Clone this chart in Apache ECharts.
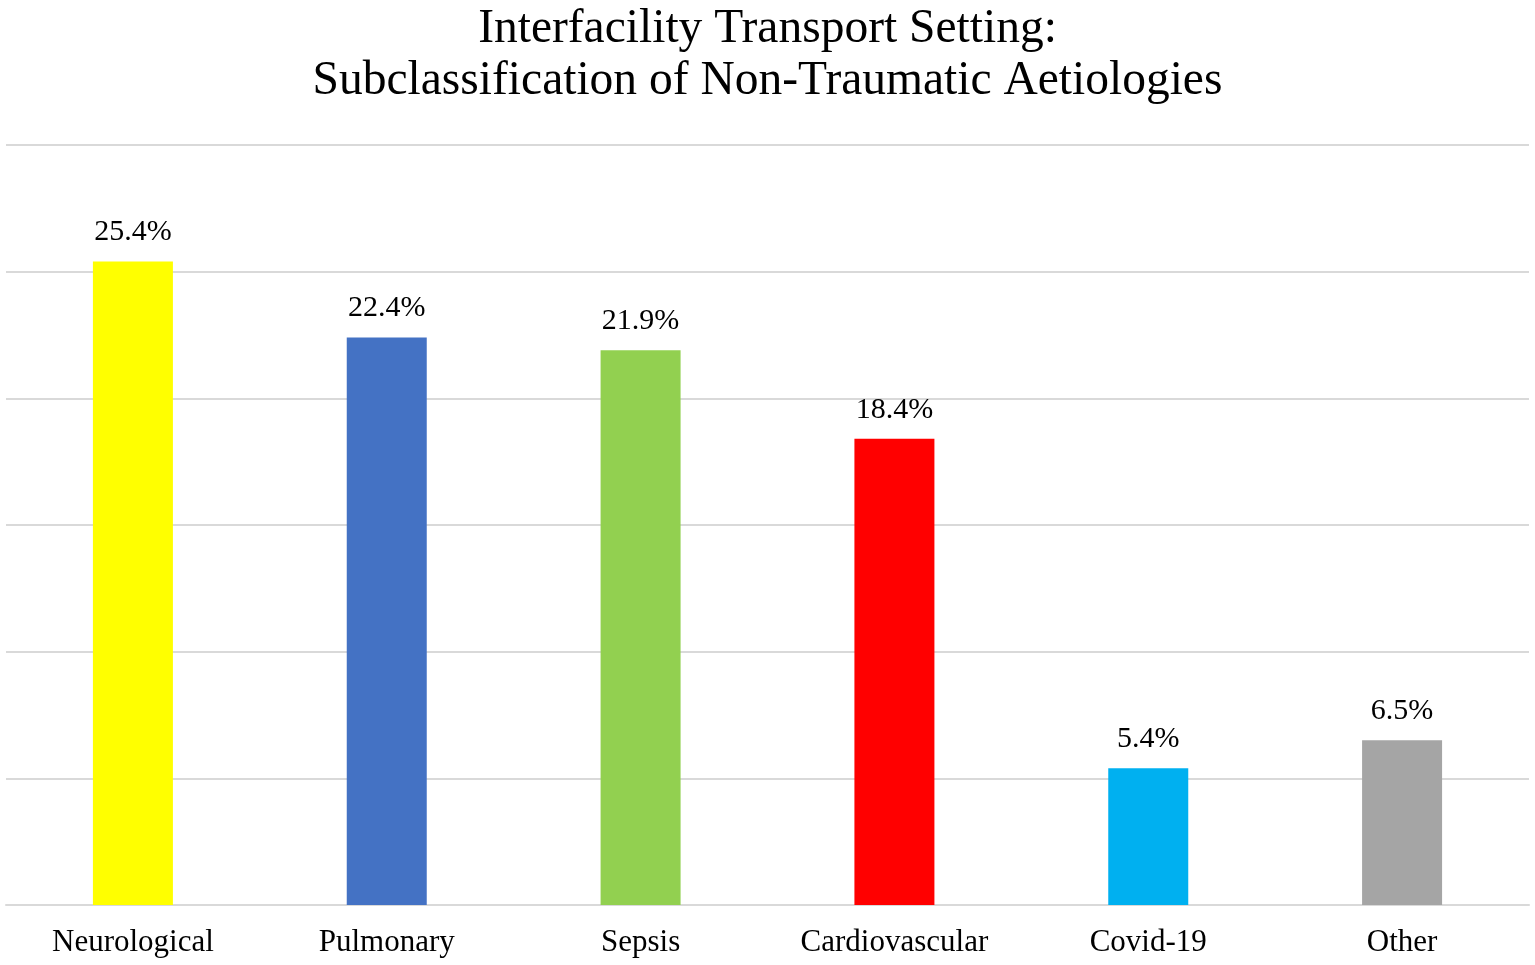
<!DOCTYPE html>
<html>
<head>
<meta charset="utf-8">
<script src="https://cdn.jsdelivr.net/npm/echarts@6/dist/echarts.min.js"></script>
<style>
html,body{margin:0;padding:0;background:#fff;}
#chart{width:1535px;height:965px;}
</style>
</head>
<body>
<div id="chart"></div>
<script>
const titleLines = ["Interfacility Transport Setting:", "Subclassification of Non-Traumatic Aetiologies"];
const categories = ["Neurological", "Pulmonary", "Sepsis", "Cardiovascular", "Covid-19", "Other"];
const values = [25.4, 22.4, 21.9, 18.4, 5.4, 6.5];
const barColors = ["#FFFF00", "#4472C4", "#92D050", "#FF0000", "#00B0F0", "#A5A5A5"];

const FONT = "'Liberation Serif', 'Times New Roman', serif";
const chart = echarts.init(document.getElementById('chart'));
chart.setOption({
  backgroundColor: '#ffffff',
  animation: false,
  title: {
    text: titleLines.join('\n'),
    left: 'center',
    top: -1,
    textStyle: { fontFamily: FONT, fontSize: 47.5, fontWeight: 'normal', color: '#000', lineHeight: 52 }
  },
  grid: { left: 6, right: 6, top: 145, bottom: 60, containLabel: false },
  xAxis: {
    type: 'category',
    data: categories,
    axisLine: { show: true, lineStyle: { color: '#d9d9d9', width: 2 } },
    axisTick: { show: false },
    axisLabel: { fontFamily: FONT, fontSize: 31, color: '#000', margin: 22 }
  },
  yAxis: {
    type: 'value',
    min: 0, max: 30, interval: 5,
    axisLabel: { show: false },
    axisLine: { show: false },
    axisTick: { show: false },
    splitLine: { show: true, lineStyle: { color: '#d9d9d9', width: 2 } }
  },
  series: [{
    type: 'bar',
    data: values.map((v, i) => ({ value: v, itemStyle: { color: barColors[i] } })),
    barWidth: 80,
    label: {
      show: true,
      position: 'top',
      distance: 14,
      fontFamily: FONT,
      fontSize: 30,
      color: '#000',
      formatter: p => p.value.toFixed(1) + '%'
    }
  }]
});
</script>
</body>
</html>
